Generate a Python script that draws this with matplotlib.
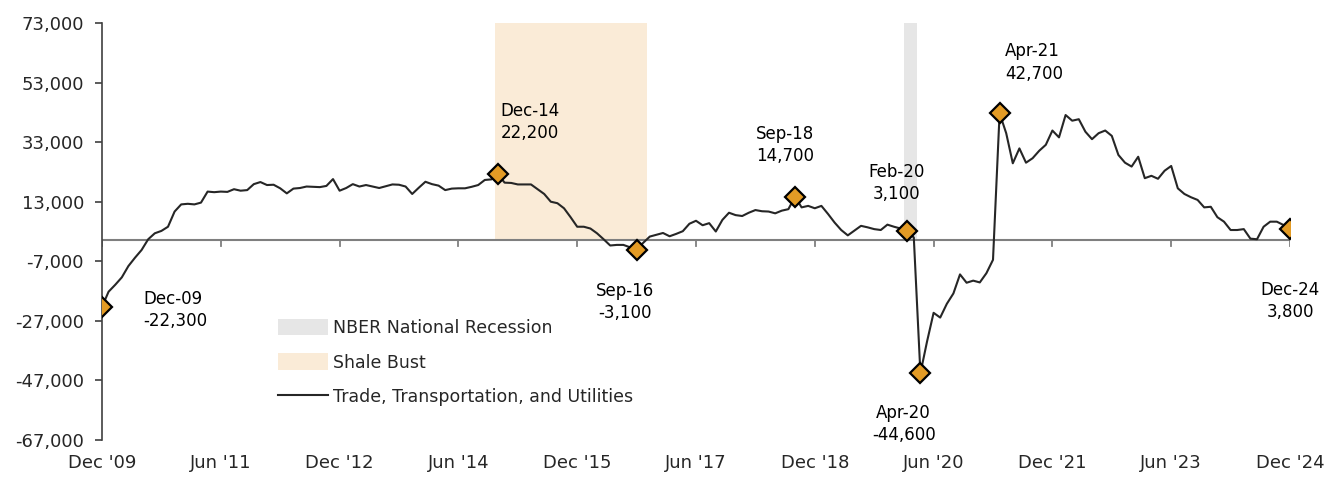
import numpy as np
import pandas as pd
import matplotlib
matplotlib.use("Agg")
import matplotlib.pyplot as plt
from matplotlib.patches import Patch
from matplotlib.lines import Line2D

plt.rcParams['font.family'] = ['DejaVu Sans']

# ---------------- data ----------------
months = pd.period_range('2009-12', '2024-12', freq='M')
values = [
    -22.3, -17.2, -14.9, -12.4, -8.6, -5.8, -3.2, 0.4, 2.4, 3.2, 4.6, 9.7,
    12.1, 12.3, 12.1, 12.7, 16.4, 16.2, 16.4, 16.3, 17.2, 16.7, 16.9, 18.9,
    19.6, 18.6, 18.7, 17.5, 15.8, 17.4, 17.6, 18.1, 18.0, 17.9, 18.3, 20.6,
    16.7, 17.6, 18.9, 18.1, 18.6, 18.1, 17.6, 18.2, 18.8, 18.7, 18.1, 15.6,
    17.7, 19.7, 18.9, 18.4, 16.9, 17.4, 17.5, 17.5, 18.0, 18.6, 20.3, 20.5,
    22.2, 19.4, 19.3, 18.8, 18.8, 18.8, 17.2, 15.6, 13.0, 12.5, 10.8, 7.8,
    4.6, 4.6, 4.0, 2.4, 0.4, -1.7, -1.5, -1.5, -2.3, -3.1, -0.8, 1.3,
    1.9, 2.5, 1.4, 2.2, 3.1, 5.6, 6.6, 5.1, 5.8, 3.0, 6.9, 9.3,
    8.5, 8.2, 9.3, 10.2, 9.8, 9.7, 9.1, 10.0, 10.5, 14.7, 11.1, 11.6,
    10.8, 11.6, 8.9, 6.0, 3.5, 1.7, 3.3, 4.9, 4.4, 3.8, 3.5, 5.3,
    4.6, 4.0, 3.1, 1.0, -44.6, -34.0, -24.3, -25.9, -21.3, -17.8, -11.4, -14.2,
    -13.5, -14.1, -11.0, -6.5, 42.7, 36.0, 25.9, 30.9, 26.1, 27.6, 30.1, 32.1,
    36.9, 34.6, 42.1, 40.2, 40.7, 36.5, 34.0, 36.0, 36.9, 35.1, 28.7, 26.1,
    24.8, 28.1, 20.9, 21.7, 20.7, 23.4, 25.0, 17.5, 15.6, 14.5, 13.6, 11.1,
    11.3, 7.8, 6.3, 3.5, 3.5, 3.8, 0.6, 0.4, 4.6, 6.3, 6.3, 5.2,
    3.8,
]
values = np.array(values) * 1000

series_name = "Trade, Transportation, and Utilities"
shale_bust = ('2014-12', '2016-10')
recession = ('2020-02', '2020-03')

highlights = [
    ('2009-12', "Dec-09\n-22,300"),
    ('2014-12', "Dec-14\n22,200"),
    ('2016-09', "Sep-16\n-3,100"),
    ('2018-09', "Sep-18\n14,700"),
    ('2020-02', "Feb-20\n3,100"),
    ('2020-04', "Apr-20\n-44,600"),
    ('2021-04', "Apr-21\n42,700"),
    ('2024-12', "Dec-24\n3,800"),
]

tick_months = ['2009-12', '2011-06', '2012-12', '2014-06', '2015-12',
               '2017-06', '2018-12', '2020-06', '2021-12', '2023-06', '2024-12']
tick_labels = ["Dec '09", "Jun '11", "Dec '12", "Jun '14", "Dec '15",
               "Jun '17", "Dec '18", "Jun '20", "Dec '21", "Jun '23", "Dec '24"]

y_ticks = [-67000, -47000, -27000, -7000, 13000, 33000, 53000, 73000]

# ---------------- plot ----------------
def idx(p):
    return months.get_loc(pd.Period(p, freq='M'))

x = np.arange(len(months))

fig = plt.figure(figsize=(13.38, 4.78), dpi=100)
ax = fig.add_axes([102/1338, 1-440/478, 1188/1338, 417/478])

ymin, ymax = -67000, 73000
ax.set_ylim(ymin, ymax)
ax.set_xlim(x[0], x[-1])

zero_frac = (0 - ymin) / (ymax - ymin)
ax.axvspan(idx(shale_bust[0]) - 0.5, idx(shale_bust[1]) + 0.5, ymin=zero_frac, ymax=1,
           color='#FAEBD7', lw=0, zorder=0)
ax.axvspan(idx(recession[0]) - 0.5, idx(recession[1]) + 0.5, ymin=zero_frac, ymax=1,
           color='#E6E6E6', lw=0, zorder=0)

ax.axhline(0, color='#7F7F7F', lw=1.5, zorder=1)
ax.plot(x, values, color='#262626', lw=1.5, zorder=3)

# ticks on the zero line
for tm in tick_months:
    ax.plot([idx(tm), idx(tm)], [0, -1800], color='#7F7F7F', lw=1.3, zorder=1)

hx = [idx(m) for m, _ in highlights]
ax.plot(hx, values[hx], ls='none', marker='D', ms=10, mfc='#E39B25', mec='black',
        mew=1.6, zorder=5)

# annotations (offsets in points)
offsets = {
    "Dec-09": (30, 12, 'left', 'top'),
    "Dec-14": (2, 23, 'left', 'bottom'),
    "Sep-16": (-8, -23, 'center', 'top'),
    "Sep-18": (-7, 23, 'center', 'bottom'),
    "Feb-20": (-8, 20, 'center', 'bottom'),
    "Apr-20": (-12, -22, 'center', 'top'),
    "Apr-21": (4, 22, 'left', 'bottom'),
    "Dec-24": (0, -37, 'center', 'top'),
}
for (m, txt) in highlights:
    k = idx(m)
    dx, dy, ha, va = offsets[txt.split('\n')[0]]
    ax.annotate(txt, (k, values[k]), xytext=(dx, dy), textcoords='offset points',
                ha=ha, va=va, fontsize=12, color='black', linespacing=1.3,
                multialignment='left' if ha == 'left' else 'center', zorder=6)

# axes styling
for s in ['top', 'right', 'bottom']:
    ax.spines[s].set_visible(False)
ax.spines['left'].set_color('#404040')
ax.spines['left'].set_linewidth(1.2)
ax.set_yticks(y_ticks)
ax.set_yticklabels([f"{v:,}" for v in y_ticks])
ax.tick_params(axis='y', length=5, width=1.2, color='#404040', labelsize=13,
               labelcolor='#262626', pad=8)
ax.set_xticks([idx(t) for t in tick_months])
ax.set_xticklabels(tick_labels)
ax.tick_params(axis='x', length=0, labelsize=13, labelcolor='#262626', pad=10)

handles = [Patch(facecolor='#E6E6E6', edgecolor='none'),
           Patch(facecolor='#FAEBD7', edgecolor='none'),
           Line2D([0], [0], color='#262626', lw=1.5)]
labels = ["NBER National Recession", "Shale Bust", series_name]
fig.legend(handles, labels, loc='upper left', bbox_to_anchor=(269/1338, 1-310/478),
           frameon=False, fontsize=12.5, handlelength=2.9, handleheight=1.1,
           handletextpad=0.3, labelspacing=0.95, borderpad=0, labelcolor='#262626')

fig.savefig('out.png', dpi=100)
